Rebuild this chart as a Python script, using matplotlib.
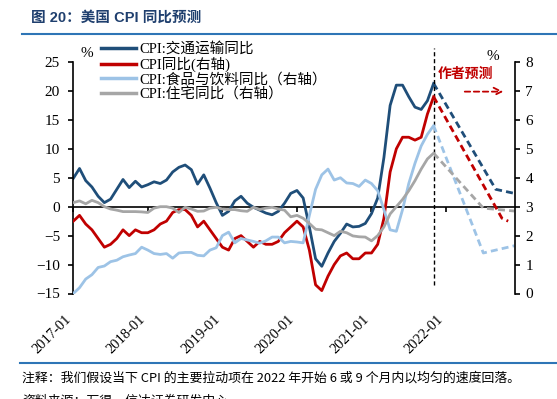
import numpy as np
import pandas as pd
import matplotlib
matplotlib.use("Agg")
import matplotlib.pyplot as plt
from matplotlib.lines import Line2D

# ---------------- data ----------------
months = [p.strftime('%Y-%m') for p in pd.period_range('2017-01', '2021-11', freq='M')]

transport = [4.9, 6.6, 4.5, 3.4, 1.8, 0.7, 1.3, 3.0, 4.7, 3.3, 4.4, 3.4,
             3.8, 4.3, 4.0, 4.6, 6.0, 6.8, 7.2, 6.4, 3.9, 5.5, 3.2, 0.7,
             -1.5, -0.8, 1.0, 1.8, 0.6, -0.1, -0.6, -1.1, -1.4, -0.8, 0.6, 2.3,
             2.8, 1.5, -3.5, -9.0, -10.3, -8.0, -6.0, -4.6, -3.0, -3.5, -3.4, -2.9,
             -1.2, 1.5, 8.5, 17.5, 21.0, 21.0, 19.0, 17.2, 16.8, 18.3, 21.3]

cpi = [2.5, 2.7, 2.4, 2.2, 1.9, 1.6, 1.7, 1.9, 2.2, 2.0, 2.2, 2.1,
       2.1, 2.2, 2.4, 2.5, 2.8, 2.9, 2.9, 2.7, 2.3, 2.5, 2.2, 1.9,
       1.6, 1.5, 1.9, 2.0, 1.8, 1.6, 1.8, 1.7, 1.7, 1.8, 2.1, 2.3,
       2.5, 2.3, 1.5, 0.3, 0.1, 0.6, 1.0, 1.3, 1.4, 1.2, 1.2, 1.4,
       1.4, 1.7, 2.6, 4.2, 5.0, 5.4, 5.4, 5.3, 5.4, 6.2, 6.8]

food = [0.0, 0.2, 0.5, 0.65, 0.9, 0.95, 1.1, 1.15, 1.27, 1.33, 1.38, 1.6,
        1.5, 1.38, 1.35, 1.38, 1.22, 1.4, 1.42, 1.42, 1.32, 1.3, 1.5, 1.58,
        2.0, 2.12, 1.75, 1.9, 1.85, 1.8, 1.74, 1.82, 1.95, 1.95, 1.75, 1.8,
        1.78, 1.75, 2.7, 3.6, 4.1, 4.3, 3.92, 4.0, 3.82, 3.8, 3.7, 3.92,
        3.8, 3.55, 2.9, 2.2, 2.15, 2.9, 3.8, 4.5, 5.1, 5.5, 5.8]

shelter = [3.14, 3.2, 3.1, 3.22, 3.14, 3.0, 2.92, 2.88, 2.83, 2.83, 2.83, 2.82,
           2.8, 2.95, 3.0, 3.0, 2.95, 2.8, 2.98, 2.92, 2.84, 2.85, 2.95, 2.98,
           2.92, 2.9, 2.9, 2.86, 2.84, 2.98, 2.9, 2.95, 2.98, 2.92, 2.88, 2.65,
           2.7, 2.6, 2.42, 2.22, 2.2, 2.1, 2.0, 2.15, 2.1, 1.99, 1.96, 1.95,
           1.82, 2.0, 2.3, 2.75, 3.0, 3.25, 3.55, 3.9, 4.3, 4.65, 4.85]

# forecasts (author's assumption)
transport_fc_months = ['2021-11', '2022-09', '2022-12']
transport_fc = [21.3, 3.0, 2.3]
cpi_fc_months = ['2021-11', '2022-10', '2022-11']
cpi_fc = [6.8, 2.6, 2.5]
food_fc_months = ['2021-11', '2022-07', '2022-12']
food_fc = [5.8, 1.4, 1.65]
shelter_fc_months = ['2021-11', '2022-07', '2022-12']
shelter_fc = [4.85, 2.95, 2.85]

forecast_start = '2021-11'
year_ticks = ['2017-01', '2018-01', '2019-01', '2020-01', '2021-01', '2022-01']

labels = ['CPI:交通运输同比', 'CPI同比(右轴)', 'CPI:食品与饮料同比（右轴）', 'CPI:住宅同比（右轴）']
colors = ['#1f4e79', '#c00000', '#9dc3e6', '#a6a6a6']


def mi(s):
    y, m = s.split('-')
    return (int(y) - 2017) * 12 + int(m) - 1


x = np.array([mi(m) for m in months])

serif = ['Liberation Serif', 'Noto Sans CJK SC']
cjk = ['Noto Sans CJK SC', 'DejaVu Sans']

W, H = 557, 399
fig = plt.figure(figsize=(W / 100, H / 100), dpi=100)
L, R, T, B = 73.3, 515.0, 62.0, 293.5
ax = fig.add_axes([L / W, 1 - B / H, (R - L) / W, (B - T) / H])
ax2 = ax.twinx()

lw = 2.0
dash = (0, (2.5, 1.5))
ax.plot(x, transport, color=colors[0], lw=lw)
ax.plot([mi(m) for m in transport_fc_months], transport_fc, color=colors[0], lw=lw, ls=dash)
ax2.plot(x, cpi, color=colors[1], lw=lw)
ax2.plot([mi(m) for m in cpi_fc_months], cpi_fc, color=colors[1], lw=lw, ls=dash)
ax2.plot(x, food, color=colors[2], lw=lw)
ax2.plot([mi(m) for m in food_fc_months], food_fc, color=colors[2], lw=lw, ls=dash)
ax2.plot(x, shelter, color=colors[3], lw=lw)
ax2.plot([mi(m) for m in shelter_fc_months], shelter_fc, color=colors[3], lw=lw, ls=dash)

ax.set_xlim(0, 71.1)
ax.set_ylim(-15, 25)
ax2.set_ylim(0, 8)
ax.set_yticks(np.arange(-15, 26, 5))
ax2.set_yticks(np.arange(0, 9, 1))

for a in (ax, ax2):
    a.spines['top'].set_visible(False)
    a.spines['bottom'].set_visible(False)
ax.spines['right'].set_visible(False)
ax2.spines['left'].set_visible(False)
ax.spines['left'].set_linewidth(1.2)
ax2.spines['right'].set_linewidth(1.2)

ax.tick_params(axis='y', direction='out', length=3.5, width=1.2, pad=6, labelsize=11)
ax2.tick_params(axis='y', direction='out', length=3.5, width=1.2, pad=4, labelsize=11)
for t in ax.get_yticklabels() + ax2.get_yticklabels():
    t.set_family(serif)

# x axis: labels at bottom, tick marks on the zero line
ax.set_xticks([mi(t) for t in year_ticks])
ax.set_xticklabels(year_ticks, rotation=45, ha='right', va='top', family=serif, fontsize=10.5)
ax.tick_params(axis='x', length=0, pad=14)
zero_frac = (0 - (-15)) / (25 - (-15))
sec = ax.secondary_xaxis(zero_frac)
sec.set_xticks([mi(t) for t in year_ticks])
sec.set_xticklabels([])
sec.tick_params(axis='x', direction='out', length=3.5, width=1.2)
sec.spines['bottom'].set_linewidth(1.2)
sec.spines['bottom'].set_color('black')

# forecast start line
ax.axvline(mi(forecast_start), ymin=0.037, ymax=1.06, color='black', lw=1.0,
           ls=(0, (3, 2)), clip_on=False, zorder=5)

# annotations
ax.text(0.031, 1.035, '%', transform=ax.transAxes, family=serif, fontsize=11, va='center', ha='center')
ax.text(0.95, 1.025, '%', transform=ax.transAxes, family=serif, fontsize=11, va='center', ha='center')
ax.text(0.826, 0.95, '作者预测', transform=ax.transAxes, family=cjk, fontsize=10,
        weight='bold', color='#c00000', va='center', ha='left')
ax.annotate('', xy=(0.98, 0.872), xytext=(0.88, 0.872), xycoords='axes fraction',
            arrowprops=dict(arrowstyle='->', color='#c00000', lw=1.3, ls=(0, (3, 2)),
                            mutation_scale=14))

# legend
handles = [Line2D([], [], color=c, lw=2.5) for c in colors]
fig.legend(handles, labels, loc='upper left', bbox_to_anchor=(101 / W, 1 - 42 / H),
           frameon=False, prop={'family': serif, 'size': 10.5}, handlelength=2.4,
           handletextpad=0.2, labelspacing=0.05, borderpad=0, borderaxespad=0)

# title, rules, notes
fig.text(31 / W, 1 - 18 / H, '图 20：美国 CPI 同比预测', family=['Liberation Sans', 'Noto Sans CJK SC'],
         fontsize=10.5, weight='bold', color='#1f3f6e', va='center', ha='left')
fig.add_artist(Line2D([22 / W, 1], [1 - 34 / H] * 2, color='#2e75b6', lw=1.5))
fig.add_artist(Line2D([20 / W, 1], [1 - 363 / H] * 2, color='#2e75b6', lw=1.5))
fig.text(22 / W, 1 - 378 / H, '注释：我们假设当下 CPI 的主要拉动项在 2022 年开始 6 或 9 个月内以均匀的速度回落。',
         family=cjk, fontsize=9.3, va='center', ha='left', color='black')
fig.text(22 / W, 1 - 401 / H, '资料来源：万得，信达证券研发中心',
         family=cjk, fontsize=9.3, va='center', ha='left', color='black')

fig.savefig('out.png', dpi=100)
